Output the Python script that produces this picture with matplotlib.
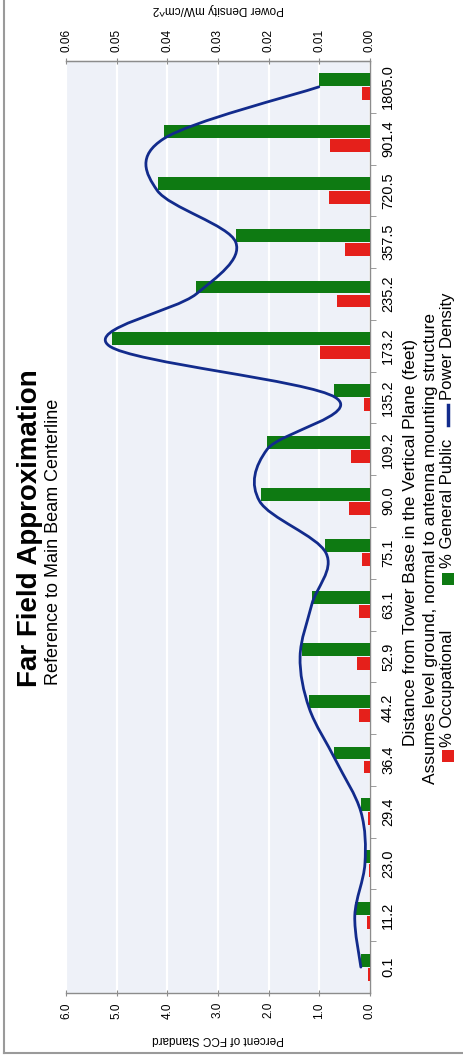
import matplotlib
matplotlib.use("Agg")
import matplotlib.pyplot as plt
from matplotlib.path import Path
from matplotlib.patches import PathPatch, Rectangle
from matplotlib.lines import Line2D
import numpy as np

# ---------------- data ----------------
categories = ["0.1", "11.2", "23.0", "29.4", "36.4", "44.2", "52.9", "63.1", "75.1",
              "90.0", "109.2", "135.2", "173.2", "235.2", "357.5", "720.5", "901.4", "1805.0"]
pct_occupational = [0.03, 0.05, 0.02, 0.03, 0.12, 0.22, 0.26, 0.21, 0.15,
                    0.41, 0.38, 0.12, 0.99, 0.66, 0.49, 0.80, 0.78, 0.16]
pct_general_public = [0.17, 0.30, 0.08, 0.18, 0.71, 1.20, 1.35, 1.15, 0.88,
                      2.15, 2.03, 0.71, 5.10, 3.43, 2.65, 4.18, 4.07, 1.01]
power_density = [0.0018, 0.0030, 0.0010, 0.0018, 0.0068, 0.0120, 0.0138, 0.0115, 0.0087,
                 0.0218, 0.0203, 0.0068, 0.0515, 0.0343, 0.0265, 0.0420, 0.0407, 0.0101]
pct_ticks = [0.0, 1.0, 2.0, 3.0, 4.0, 5.0, 6.0]
pd_ticks = [0.00, 0.01, 0.02, 0.03, 0.04, 0.05, 0.06]

# ---------------- style ----------------
FONT = "Liberation Sans"
plt.rcParams["font.family"] = [FONT, "DejaVu Sans"]
W, H = 464, 1057
GREEN = "#0e7a12"
RED = "#e5201b"
NAVY = "#122b8c"
BG = "#eef1f8"
AXC = "#8c8c8c"

fig = plt.figure(figsize=(W / 100, H / 100), dpi=100)
fig.patch.set_facecolor("white")

def fx(px):
    return px / W

def fy(py):
    return 1 - py / H

ax_left, ax_right, ax_top, ax_bot = 66, 370, 61, 993
ax = fig.add_axes([fx(ax_left), fy(ax_bot), (ax_right - ax_left) / W, (ax_bot - ax_top) / H])
ax.set_facecolor(BG)

n = len(categories)
ypos = np.arange(n)
bh = 0.25
ax.barh(ypos + 0.135, pct_general_public, height=bh, color=GREEN, zorder=3)
ax.barh(ypos - 0.135, pct_occupational, height=bh, color=RED, zorder=3)

ax.set_xlim(6, 0)
ax.set_ylim(-0.5, n - 0.5)

# grid
ax.set_xticks(pct_ticks)
ax.set_xticklabels([f"{v:.1f}" for v in pct_ticks], rotation=90, fontsize=8.5)
ax.xaxis.grid(True, color="white", linewidth=1.6, zorder=1)
ax.set_axisbelow(True)

# category axis on the right
ax.yaxis.tick_right()
ax.set_yticks(ypos)
ax.set_yticklabels(categories, rotation=90, fontsize=10.5, va="center")
ax.set_yticks(ypos[:-1] + 0.5, minor=True)
ax.tick_params(axis="y", which="major", length=0, pad=8)
ax.tick_params(axis="y", which="minor", length=4, color=AXC, direction="out")
ax.tick_params(axis="x", which="major", length=5, color=AXC, direction="inout", pad=4)
ax.spines["left"].set_visible(False)
for s in ["top", "bottom", "right"]:
    ax.spines[s].set_color(AXC)
    ax.spines[s].set_linewidth(1.0)

# secondary axis for power density
ax2 = ax.twiny()
ax2.set_xlim(0.06, 0)
ax2.set_ylim(-0.5, n - 0.5)
ax2.set_xticks(pd_ticks)
ax2.set_xticklabels([f"{v:.2f}" for v in pd_ticks], rotation=90, fontsize=8.5)
ax2.tick_params(axis="x", which="major", length=5, color=AXC, direction="inout", pad=4)
for s in ["left", "bottom", "right"]:
    ax2.spines[s].set_visible(False)
ax2.spines["top"].set_color(AXC)

# smoothed line (cubic Bezier through the points, Excel-style)
px = np.array(power_density)
py = ypos.astype(float)
verts = [(px[0], py[0])]
codes = [Path.MOVETO]
for i in range(n - 1):
    p0 = (px[max(i - 1, 0)], py[max(i - 1, 0)])
    p1 = (px[i], py[i])
    p2 = (px[i + 1], py[i + 1])
    p3 = (px[min(i + 2, n - 1)], py[min(i + 2, n - 1)])
    c1 = (p1[0] + (p2[0] - p0[0]) / 6, p1[1] + (p2[1] - p0[1]) / 6)
    c2 = (p2[0] - (p3[0] - p1[0]) / 6, p2[1] - (p3[1] - p1[1]) / 6)
    verts += [c1, c2, p2]
    codes += [Path.CURVE4] * 3
ax2.add_patch(PathPatch(Path(verts, codes), facecolor="none", edgecolor=NAVY,
                        linewidth=2.0, zorder=5, capstyle="round", joinstyle="round"))

# ---------------- texts ----------------
fig.text(fx(30), fy(528), "Far Field Approximation", rotation=90, fontsize=20,
         fontweight="bold", ha="center", va="center")
fig.text(fx(54), fy(542), "Reference to Main Beam Centerline", rotation=90, fontsize=13,
         ha="center", va="center")
fig.text(fx(218), fy(1039), "Percent of FCC Standard", rotation=180, fontsize=8.5,
         ha="center", va="center")
fig.text(fx(218), fy(9), "Power Density mW/cm^2", rotation=180, fontsize=8.5,
         ha="center", va="center")
fig.text(fx(411), fy(542), "Distance from Tower Base in the Vertical Plane (feet)",
         rotation=90, fontsize=12.5, ha="center", va="center")
fig.text(fx(431), fy(548), "Assumes level ground, normal to antenna mounting structure",
         rotation=90, fontsize=12.5, ha="center", va="center")

# legend (manual, rotated)
lx = 448
fig.add_artist(Rectangle((fx(lx - 6), fy(762)), 12 / W, 12 / H, transform=fig.transFigure,
                         facecolor=RED, edgecolor="none"))
fig.text(fx(lx), fy(747), "% Occupational", rotation=90, fontsize=12, ha="center", va="bottom")
fig.add_artist(Rectangle((fx(lx - 6), fy(585)), 12 / W, 12 / H, transform=fig.transFigure,
                         facecolor=GREEN, edgecolor="none"))
fig.text(fx(lx), fy(568), "% General Public", rotation=90, fontsize=12, ha="center", va="bottom")
fig.add_artist(Line2D([fx(lx), fx(lx)], [fy(425), fy(405)], transform=fig.transFigure,
                      color=NAVY, linewidth=2.5))
fig.text(fx(lx), fy(400), "Power Density", rotation=90, fontsize=12, ha="center", va="bottom")

# outer border of the scanned chart
fig.add_artist(Line2D([fx(4), fx(4)], [fy(0), fy(1053)], transform=fig.transFigure,
                      color="#9a9a9a", linewidth=1.5))
fig.add_artist(Line2D([fx(4), fx(464)], [fy(1053), fy(1053)], transform=fig.transFigure,
                      color="#9a9a9a", linewidth=1.5))

fig.savefig("out.png", dpi=100, facecolor="white")
